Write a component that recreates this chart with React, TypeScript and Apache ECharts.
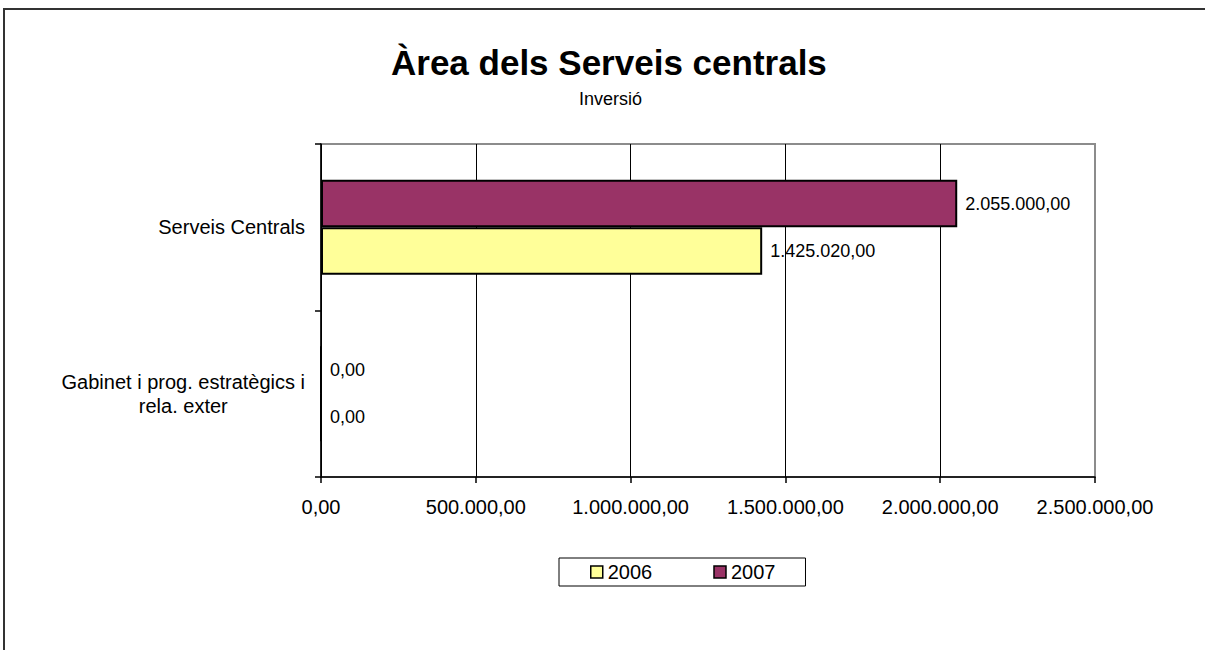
import React, { useEffect, useRef } from "react";
import * as echarts from "echarts";

const categories = ["Gabinet i prog. estratègics i\nrela. exter", "Serveis Centrals"];
const seriesNames = ["2006", "2007"];
const values2006 = [0, 1425020];
const values2007 = [0, 2055000];
const seriesColors = ["#FFFF99", "#993366"];

const FONT = "'Liberation Sans', Arial, sans-serif";

function fmt(v: number): string {
  const s = Math.abs(v).toFixed(2);
  const [i, d] = s.split(".");
  return (v < 0 ? "-" : "") + i.replace(/\B(?=(\d{3})+(?!\d))/g, ".") + "," + d;
}

export default function App() {
  const ref = useRef<HTMLDivElement>(null);
  useEffect(() => {
    if (!ref.current) return;
    const chart = echarts.init(ref.current, null, { renderer: "svg" });
    const mkSeries = (name: string, data: number[], color: string) => ({
      name,
      type: "bar",
      data,
      barGap: "0%",
      barCategoryGap: "43%",
      itemStyle: { color, borderColor: "#000", borderWidth: 2 },
      label: {
        show: true,
        position: "right",
        distance: 8,
        formatter: (p: any) => fmt(p.value),
        color: "#000",
        fontSize: 18,
        fontFamily: FONT,
      },
    });
    chart.setOption({
      animation: false,
      textStyle: { fontFamily: FONT },
      title: [
        {
          text: "Àrea dels Serveis centrals",
          left: 391,
          top: 45,
          padding: 0,
          textStyle: { fontSize: 35, fontWeight: "bold", color: "#000", fontFamily: FONT },
        },
        {
          text: "Inversió",
          left: 579,
          top: 90,
          padding: 0,
          textStyle: { fontSize: 18, fontWeight: "normal", color: "#000", fontFamily: FONT },
        },
      ],
      legend: {
        data: seriesNames,
        left: 559,
        top: 558,
        orient: "horizontal",
        padding: [4, 30, 4, 31],
        itemGap: 61,
        itemWidth: 12,
        itemHeight: 12,
        icon: "rect",
        borderColor: "#000",
        borderWidth: 1,
        itemStyle: { borderColor: "#000", borderWidth: 1.5 },
        textStyle: { fontSize: 20, color: "#000", fontFamily: FONT },
      },
      grid: {
        left: 321,
        top: 144,
        right: 110,
        bottom: 173,
        show: true,
        borderColor: "#8c8c8c",
        borderWidth: 2,
        backgroundColor: "transparent",
      },
      xAxis: {
        type: "value",
        min: 0,
        max: 2500000,
        interval: 500000,
        axisLine: { show: true, lineStyle: { color: "#000", width: 1.5 } },
        axisTick: { show: true, length: 6, lineStyle: { color: "#000", width: 1.5 } },
        axisLabel: {
          formatter: (v: number) => fmt(v),
          color: "#000",
          fontSize: 20,
          margin: 20,
          fontFamily: FONT,
        },
        splitLine: { show: true, showMaxLine: false, lineStyle: { color: "#000", width: 1 } },
      },
      yAxis: {
        type: "category",
        data: categories,
        axisLine: { show: true, lineStyle: { color: "#000", width: 1.5 } },
        axisTick: { show: true, length: 6, alignWithLabel: false, lineStyle: { color: "#000", width: 1.5 } },
        axisLabel: {
          margin: 16,
          color: "#000",
          fontSize: 20,
          fontFamily: FONT,
          formatter: (v: string) => v.split("\n").map((l) => `{c|${l}}`).join("\n"),
          rich: {
            c: { align: "center", fontSize: 20, lineHeight: 24, color: "#000", fontFamily: FONT },
          },
        },
        splitLine: { show: false },
      },
      series: [
        mkSeries(seriesNames[1], values2007, seriesColors[1]),
        mkSeries(seriesNames[0], values2006, seriesColors[0]),
      ],
    });
    return () => chart.dispose();
  }, []);
  return (
    <div
      style={{
        position: "absolute",
        left: 0,
        top: 0,
        width: 1205,
        height: 650,
        overflow: "hidden",
        background: "#fff",
      }}
    >
      <div
        style={{
          position: "absolute",
          left: 3,
          top: 8,
          width: 1400,
          height: 900,
          borderTop: "2px solid #333",
          borderLeft: "2px solid #333",
          boxSizing: "border-box",
        }}
      />
      <div
        ref={ref}
        style={{ position: "absolute", left: 0, top: 0, width: 1205, height: 650 }}
      />
    </div>
  );
}
